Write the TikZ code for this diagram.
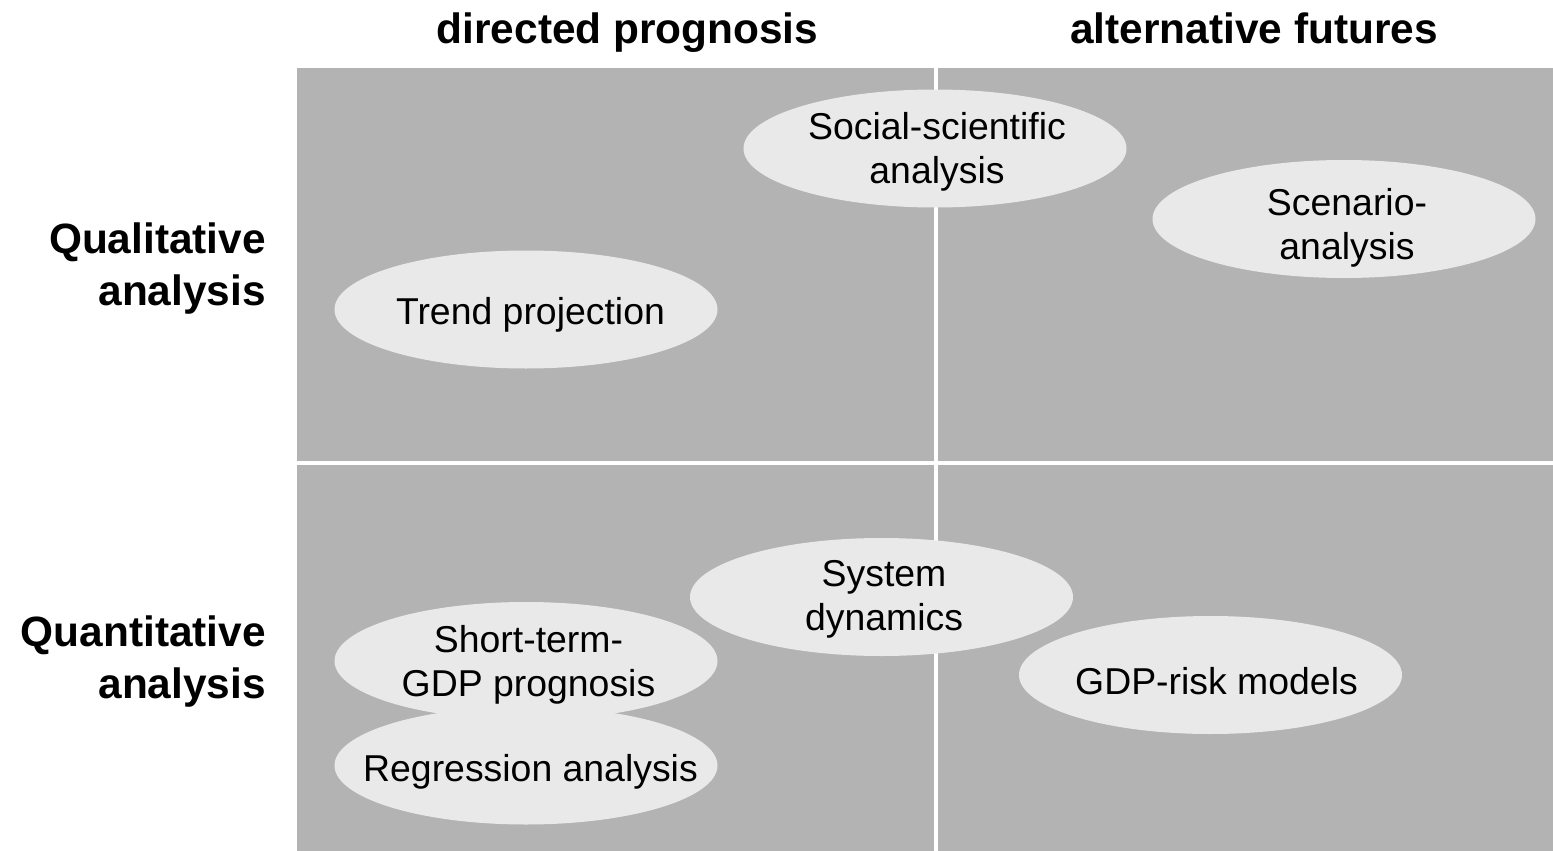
\documentclass[tikz,border=0pt]{standalone}
\usepackage{fontspec}
\setmainfont{Liberation Sans}
\usetikzlibrary{shapes.geometric}
\definecolor{panelgray}{HTML}{B3B3B3}
\definecolor{ovalgray}{HTML}{E9E9E9}
\tikzset{
  panel/.style={fill=panelgray, draw=none},
  oval/.style={ellipse, fill=ovalgray, draw=none, inner sep=0pt,
    minimum width=383pt, minimum height=118pt},
  ovaltext/.style={inner sep=0pt, align=center,
    font=\fontsize{37.4}{44}\selectfont},
  header/.style={inner sep=0pt, anchor=base, font=\fontsize{42.4}{51}\selectfont\bfseries},
  rowlabel/.style={inner sep=0pt, anchor=east, align=right,
    font=\fontsize{42.4}{52}\selectfont\bfseries}
}
\begin{document}
\begin{tikzpicture}[x=1pt,y=-1pt]
\useasboundingbox (0,0) rectangle (1553,851);
% panels
\fill[panel] (297,68) rectangle (933.5,461);
\fill[panel] (938,68) rectangle (1553,461);
\fill[panel] (297,464.5) rectangle (933.5,851);
\fill[panel] (938,464.5) rectangle (1553,851);
% headers
\node[header] (hdir) at (627.5,43.5) {directed prognosis};
\node[header] (halt) at (1254,43.5) {alternative futures};
% row labels
\node[rowlabel] (rqual) at (266,269) {Qualitative\\analysis};
\node[rowlabel] (rquant) at (266,662) {Quantitative\\analysis};
% ovals
\node[oval] (social) at (935,148.5) {};
\node[ovaltext] (socialtxt) at (937,151.5) {Social-scientific\\analysis};
\node[oval] (scen) at (1344,219) {};
\node[ovaltext] (scentxt) at (1347,227.5) {Scenario-\\analysis};
\node[oval] (trend) at (526,309.5) {};
\node[ovaltext] (trendtxt) at (530.5,314.5) {Trend projection};
\node[oval] (sysdyn) at (881.5,597) {};
\node[ovaltext] (sysdyntxt) at (884,599) {System\\dynamics};
\node[oval] (gdprisk) at (1210.5,675) {};
\node[ovaltext] (gdprisktxt) at (1216.5,681.5) {GDP-risk models};
\node[oval] (short) at (526,661) {};
\node[ovaltext] (shorttxt) at (528.5,665) {Short-term-\\GDP prognosis};
\node[oval] (regr) at (526,765.5) {};
\node[ovaltext] (regrtxt) at (530.5,771.5) {Regression analysis};
\end{tikzpicture}
\end{document}
